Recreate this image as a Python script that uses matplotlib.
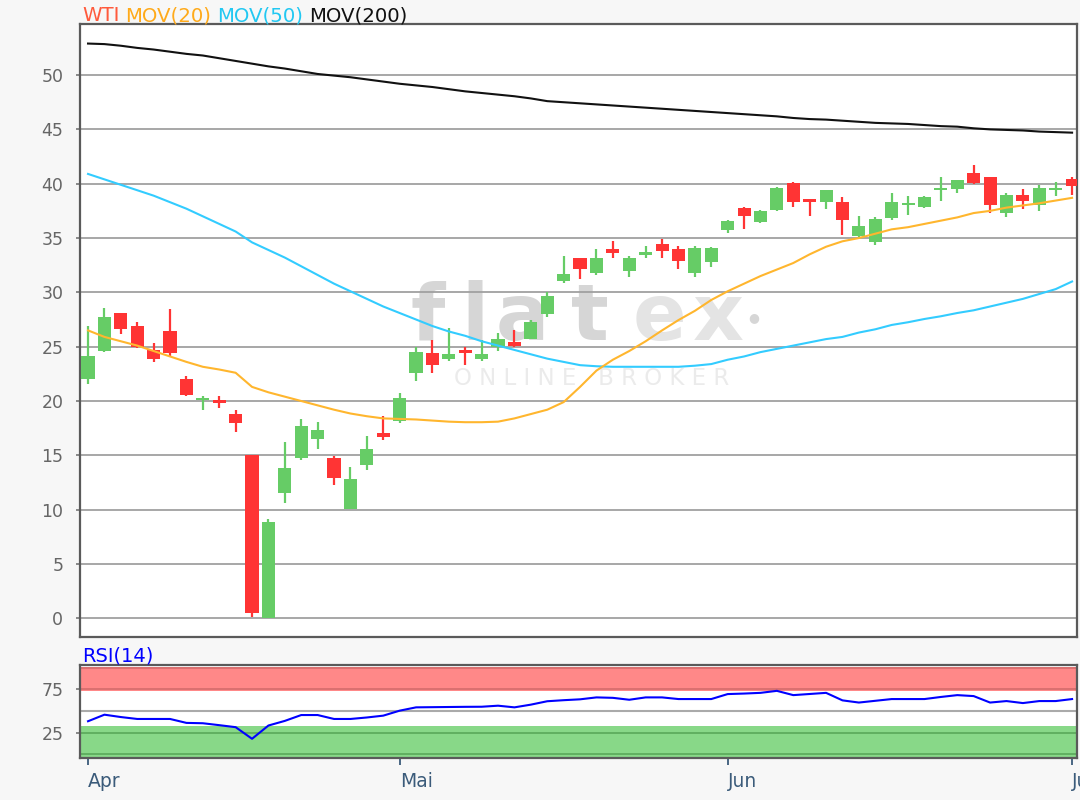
import matplotlib
matplotlib.use('Agg')
import matplotlib.pyplot as plt
import numpy as np
from matplotlib.transforms import IdentityTransform

# WTI daily candles, Apr - Jul 2020 (one entry per trading day)
opens = [22.0, 24.6, 28.1, 26.9, 24.7, 26.4, 22.0, 20.1, 20.1, 18.85,
         15.0, 0.0, 11.5, 14.8, 16.5, 14.8, 10.1, 14.1, 17.05, 18.15,
         22.55, 24.4, 23.85, 24.6, 23.85, 24.95, 25.45, 25.75, 28.05, 31.05,
         33.2, 31.75, 33.95, 31.95, 33.45, 34.45, 33.95, 31.75, 32.75, 35.7,
         37.8, 36.45, 37.55, 40.05, 38.55, 38.3, 38.35, 35.15, 34.6, 36.8,
         38.0, 37.9, 39.4, 39.5, 41.0, 40.6, 37.35, 38.95, 38.05, 39.45,
         40.45]
highs = [26.9, 28.6, 28.1, 27.3, 25.3, 28.45, 22.3, 20.5, 20.5, 19.15,
         15.0, 9.1, 16.25, 18.3, 18.1, 14.95, 13.9, 16.8, 18.65, 20.7,
         24.95, 25.65, 26.7, 24.95, 25.6, 26.3, 26.5, 27.5, 30.0, 33.35,
         33.2, 33.95, 34.7, 33.35, 34.3, 34.9, 34.3, 34.3, 34.2, 36.7,
         37.85, 37.6, 39.7, 40.2, 38.55, 39.45, 38.75, 37.05, 36.95, 39.15,
         38.9, 38.85, 40.6, 40.35, 41.75, 40.6, 39.15, 39.5, 39.9, 40.2,
         40.6]
lows = [21.6, 24.5, 26.2, 24.9, 23.6, 24.1, 20.5, 19.2, 19.4, 17.15,
        0.1, 0.0, 10.6, 14.6, 15.55, 12.25, 10.05, 13.65, 16.45, 17.95,
        21.85, 22.55, 23.7, 23.3, 23.7, 24.6, 24.95, 25.7, 27.75, 30.85,
        31.2, 31.6, 33.2, 31.4, 33.2, 33.2, 32.15, 31.45, 32.35, 35.45,
        35.85, 36.4, 37.5, 37.9, 37.0, 37.7, 35.3, 35.1, 34.4, 36.7,
        37.15, 37.75, 38.45, 39.15, 40.0, 37.3, 36.95, 37.65, 37.5, 38.85,
        39.0]
closes = [24.1, 27.7, 26.6, 25.0, 23.85, 24.4, 20.55, 20.3, 19.85, 17.95,
          0.45, 8.9, 13.85, 17.7, 17.35, 12.95, 12.8, 15.55, 16.65, 20.3,
          24.55, 23.3, 24.3, 24.45, 24.3, 25.75, 25.05, 27.3, 29.7, 31.7,
          32.15, 33.2, 33.65, 33.2, 33.75, 33.8, 32.9, 34.1, 34.1, 36.6,
          37.0, 37.45, 39.65, 38.3, 38.3, 39.45, 36.65, 36.15, 36.75, 38.35,
          38.15, 38.75, 39.6, 40.35, 40.05, 38.05, 38.95, 38.45, 39.65, 39.65,
          39.75]

mov20 = [26.5, 25.9, 25.5, 25.1, 24.6, 24.1, 23.6, 23.15, 22.9, 22.6,
         21.3, 20.8, 20.4, 20.0, 19.6, 19.2, 18.85, 18.6, 18.4, 18.35,
         18.3, 18.2, 18.1, 18.05, 18.05, 18.1, 18.4, 18.8, 19.2, 19.9,
         21.3, 22.8, 23.8, 24.6, 25.5, 26.5, 27.45, 28.3, 29.3, 30.1,
         30.8, 31.5, 32.1, 32.7, 33.5, 34.2, 34.7, 35.0, 35.4, 35.8,
         36.0, 36.3, 36.6, 36.9, 37.3, 37.5, 37.8, 38.0, 38.2, 38.45,
         38.7]
mov50 = [40.9, 40.4, 39.9, 39.4, 38.9, 38.3, 37.7, 37.0, 36.3, 35.6,
         34.6, 33.9, 33.2, 32.4, 31.6, 30.8, 30.1, 29.4, 28.7, 28.1,
         27.5, 26.9, 26.4, 26.0, 25.5, 25.1, 24.7, 24.3, 23.9, 23.6,
         23.3, 23.2, 23.15, 23.15, 23.15, 23.15, 23.15, 23.25, 23.4, 23.8,
         24.1, 24.5, 24.8, 25.1, 25.4, 25.7, 25.9, 26.3, 26.6, 27.0,
         27.25, 27.55, 27.8, 28.1, 28.35, 28.7, 29.05, 29.4, 29.85, 30.3,
         31.0]
mov200 = [52.9, 52.85, 52.7, 52.5, 52.35, 52.15, 51.95, 51.8, 51.55, 51.3,
          51.05, 50.8, 50.6, 50.35, 50.1, 49.95, 49.8, 49.6, 49.4, 49.2,
          49.05, 48.9, 48.7, 48.5, 48.35, 48.2, 48.05, 47.85, 47.6, 47.5,
          47.4, 47.3, 47.2, 47.1, 47.0, 46.9, 46.8, 46.7, 46.6, 46.5,
          46.4, 46.3, 46.2, 46.05, 45.95, 45.9, 45.8, 45.7, 45.6, 45.55,
          45.5, 45.4, 45.3, 45.25, 45.1, 45.0, 44.95, 44.9, 44.8, 44.75,
          44.7]
rsi14 = [37.9, 45.4, 42.7, 40.5, 40.5, 40.5, 36.0, 35.6, 33.4, 31.1,
         17.8, 33.0, 38.3, 45.0, 45.0, 40.5, 40.5, 42.2, 44.3, 50.0,
         53.8, 54.0, 54.2, 54.4, 54.5, 55.7, 53.8, 56.9, 60.8, 62.0,
         63.0, 65.2, 64.7, 62.5, 65.2, 65.2, 63.3, 63.3, 63.3, 69.0,
         69.6, 70.4, 72.7, 67.8, 69.1, 70.4, 61.8, 59.3, 61.3, 63.3,
         63.3, 63.3, 65.7, 67.8, 66.7, 59.3, 61.0, 58.7, 61.0, 61.0,
         63.3]

month_labels = ['Apr', 'Mai', 'Jun', 'Jul']
month_start = [0, 19, 39, 60]   # index of first trading day

RED = '#ff3434'
GREEN = '#66cc66'
BG = '#f7f7f7'
FRAME = '#5a5a5a'

fig = plt.figure(figsize=(10.8, 8), dpi=100, facecolor=BG)
ax = fig.add_axes([80 / 1080, 1 - 637 / 800, 997 / 1080, 613 / 800])
ax2 = fig.add_axes([80 / 1080, 1 - 758 / 800, 997 / 1080, 93 / 800])

x = np.arange(len(opens))
o = np.array(opens)
h = np.array(highs)
l = np.array(lows)
c = np.array(closes)
cols = np.where(c >= o, GREEN, RED)

# --- price panel
ax.set_axisbelow(True)
ax.yaxis.grid(True, color='#a0a0a0', lw=1.3)
ax.vlines(x, l, h, colors=cols, lw=1.6, zorder=3)
ax.bar(x, np.maximum(np.abs(c - o), 0.2), 0.8, bottom=np.minimum(o, c),
       color=cols, lw=0, zorder=4)
ax.plot(x, mov200, color='#111111', lw=1.5, zorder=5)
ax.plot(x, mov50, color='#33ccff', lw=1.5, zorder=5)
ax.plot(x, mov20, color='#ffb62e', lw=1.5, zorder=5)

ax.set_xlim(-0.49, 60.3)
ax.set_ylim(-1.72, 54.7)
ax.set_yticks(range(0, 51, 5))
ax.tick_params(axis='y', length=3, width=1.2, color='#777777', pad=9,
               labelsize=12.5, labelcolor='#666666')
ax.tick_params(axis='x', bottom=False, labelbottom=False)
for sp in ax.spines.values():
    sp.set_color(FRAME)
    sp.set_linewidth(1.6)

# watermark behind everything
logo = [('f', 428, '#d6d6d6'), ('l', 475, '#d6d6d6'), ('a', 522, '#d6d6d6'),
        ('t', 590, '#d6d6d6'), ('e', 660, '#e4e4e4'), ('x', 718, '#e4e4e4')]
for ch, px, col in logo:
    ax.text(px / 1080, 1 - 340 / 800, ch, transform=fig.transFigure,
            ha='center', va='baseline', fontsize=57, fontweight='bold',
            color=col, zorder=0.2)
ax.text(754 / 1080, 1 - 318 / 800, '\u25cf', transform=fig.transFigure,
        ha='center', va='center', fontsize=9, color='#d6d6d6', zorder=0.2)
ax.text(592 / 1080, 1 - 385 / 800, 'O N L I N E   B R O K E R',
        transform=fig.transFigure, ha='center', va='baseline',
        fontsize=16.5, color='#ebebeb', zorder=0.2)

# --- RSI panel
ax2.axhspan(72, 100.5, color='#ff8888', lw=0, zorder=1)
ax2.axhspan(-5, 32.5, color='#88d888', lw=0, zorder=1)
for yv in (98.5, 75):
    ax2.axhline(yv, color='#d46c6c', lw=1.2, zorder=2)
for yv in (25, 0):
    ax2.axhline(yv, color='#5aa85a', lw=1.2, zorder=2)
ax2.axhline(50, color='#aaaaaa', lw=1.5, zorder=2)
ax2.plot(x, rsi14, color='#0000ff', lw=1.5, zorder=3)
ax2.set_xlim(-0.49, 60.3)
ax2.set_ylim(-4.2, 102.3)
ax2.set_yticks([25, 75])
ax2.tick_params(axis='y', length=3, width=1.2, color='#777777', pad=9,
                labelsize=12.5, labelcolor='#666666')
ax2.set_xticks(month_start)
ax2.set_xticklabels(month_labels, ha='left')
ax2.tick_params(axis='x', length=5, width=1.3, color='#3b5b7a', pad=5,
                labelsize=13.5, labelcolor='#3b5b7a')
for sp in ax2.spines.values():
    sp.set_color(FRAME)
    sp.set_linewidth(1.6)

# coloured legend texts above the panels
r = fig.canvas.get_renderer()


def word_row(parts, px, py, size):
    for s, col in parts:
        t = fig.text(px, py, s, color=col, fontsize=size, va='baseline',
                     transform=IdentityTransform())
        px = t.get_window_extent(r).x1 + 6


word_row([('WTI', '#ff5a3c'), ('MOV(20)', '#ffaa1a'), ('MOV(50)', '#22c8f2'),
          ('MOV(200)', '#111111')], 82, 800 - 21, 14.2)
word_row([('RSI(14)', '#0000ff')], 82, 800 - 661, 14)

fig.savefig('out.png', dpi=100, facecolor=BG)
